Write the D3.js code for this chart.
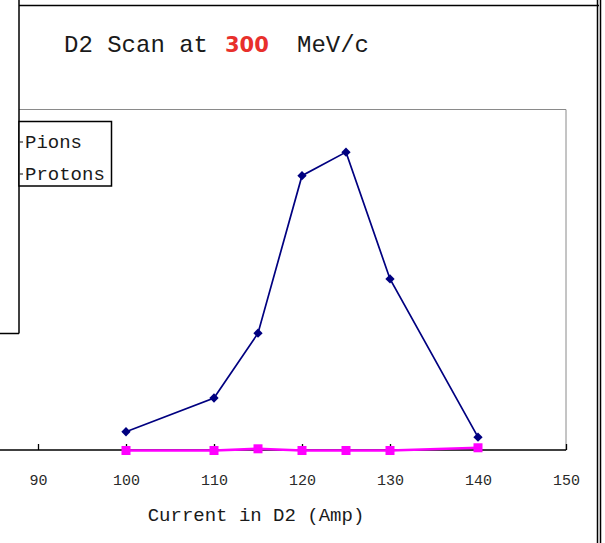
<!DOCTYPE html>
<html>
<head>
<meta charset="utf-8">
<script src="https://cdn.jsdelivr.net/npm/d3@7"></script>
<style>
  html, body { margin: 0; padding: 0; background: #fff; }
  svg { display: block; }
</style>
</head>
<body>
<svg id="chart" width="605" height="543"></svg>
<script>
// ---- data ----
const currents = [100, 110, 115, 120, 125, 130, 140];
const pions    = [55, 154, 344, 806, 875, 503, 39];
const protons  = [0, 0, 5, 0, 0, 0, 8];
const xTicks   = [90, 100, 110, 120, 130, 140, 150];
const seriesNames = ["Pions", "Protons"];
const titleParts = ["D2 Scan at", "300", "MeV/c"];
const xTitle = "Current in D2 (Amp)";

// ---- layout ----
const W = 605, H = 543;
const plot = { left: 19, top: 109.5, right: 566, bottom: 450.5 };
const mono = "'Liberation Mono', 'DejaVu Sans Mono', monospace";
const colPions = "#000080", colProtons = "#ff00ff";

const svg = d3.select("#chart");
svg.append("rect").attr("width", W).attr("height", H).attr("fill", "#fff");

const x = d3.scaleLinear().domain([90, 150]).range([38, 566]);
const y = d3.scaleLinear().domain([0, 1000]).range([plot.bottom, plot.top]);

// outer frame pieces
svg.append("line").attr("x1", 19).attr("x2", 599).attr("y1", 5.5).attr("y2", 5.5)
   .attr("stroke", "#000").attr("stroke-width", 1.5);
svg.append("line").attr("x1", 597.5).attr("x2", 597.5).attr("y1", 0).attr("y2", H)
   .attr("stroke", "#000").attr("stroke-width", 1.5);
svg.append("line").attr("x1", 600.5).attr("x2", 600.5).attr("y1", 0).attr("y2", H)
   .attr("stroke", "#000").attr("stroke-width", 1.5);

// plot area border (grey)
svg.append("path")
   .attr("d", `M${plot.left},${plot.top}H${plot.right}V${plot.bottom}`)
   .attr("fill", "none").attr("stroke", "#8a8a8a").attr("stroke-width", 1);

// left overlapping panel
svg.append("line").attr("x1", 19).attr("x2", 19).attr("y1", 0).attr("y2", 333.5)
   .attr("stroke", "#000").attr("stroke-width", 1.5);
svg.append("line").attr("x1", 0).attr("x2", 19).attr("y1", 333.5).attr("y2", 333.5)
   .attr("stroke", "#000").attr("stroke-width", 1.5);

// title
const tg = svg.append("g").attr("font-family", mono).attr("font-size", 24).attr("fill", "#1a1a1a");
tg.append("text").attr("x", 64).attr("y", 52).text(titleParts[0]);
tg.append("text").attr("x", 225).attr("y", 52)
  .attr("font-family", "'DejaVu Sans', sans-serif").attr("font-weight", "bold")
  .attr("font-size", 21).attr("fill", "#e8302c").text(titleParts[1]);
tg.append("text").attr("x", 297).attr("y", 52).text(titleParts[2]);

// x axis
const ax = svg.append("g").attr("transform", `translate(0,${plot.bottom - 0.5})`)
  .call(d3.axisBottom(x).tickValues(xTicks).tickSizeInner(-6).tickSizeOuter(0).tickPadding(24));
ax.select(".domain").remove();
ax.append("line").attr("x1", 0).attr("x2", plot.right).attr("y1", 0).attr("y2", 0)
  .attr("stroke", "#000").attr("stroke-width", 1.5);
ax.selectAll(".tick line").attr("stroke", "#000").attr("stroke-width", 1.3);
ax.selectAll(".tick text").attr("font-family", mono).attr("font-size", 15).attr("fill", "#2a2a2a");

svg.append("text").attr("x", 256).attr("y", 521).attr("text-anchor", "middle")
   .attr("font-family", mono).attr("font-size", 19).attr("fill", "#1a1a1a").text(xTitle);

// series
const line = d3.line().x(d => x(d[0])).y(d => y(d[1]));
const pData = currents.map((c, i) => [c, pions[i]]);
const rData = currents.map((c, i) => [c, protons[i]]);

svg.append("path").datum(pData).attr("d", line)
   .attr("fill", "none").attr("stroke", colPions).attr("stroke-width", 1.7);
svg.append("path").datum(rData).attr("d", line)
   .attr("fill", "none").attr("stroke", colProtons).attr("stroke-width", 2.6);

svg.selectAll(".pm").data(pData).enter().append("path").attr("class", "pm")
   .attr("transform", d => `translate(${x(d[0])},${y(d[1])})`)
   .attr("d", d3.symbol(d3.symbolDiamond2, 55)).attr("fill", colPions);
svg.selectAll(".rm").data(rData).enter().append("rect").attr("class", "rm")
   .attr("x", d => x(d[0]) - 4.5).attr("y", d => y(d[1]) - 4.5)
   .attr("width", 9).attr("height", 9).attr("fill", colProtons);

// legend
svg.append("rect").attr("x", 19).attr("y", 121.5).attr("width", 92.5).attr("height", 64.5)
   .attr("fill", "#fff").attr("stroke", "#000").attr("stroke-width", 1.5);
const lg = svg.append("g");
seriesNames.forEach((n, i) => {
  const yy = 142 + i * 32;
  lg.append("line").attr("x1", 19).attr("x2", 23).attr("y1", yy).attr("y2", yy)
    .attr("stroke", "#333").attr("stroke-width", 1.2);
  lg.append("text").attr("x", 25).attr("y", yy + 6).attr("font-family", mono)
    .attr("font-size", 19).attr("fill", "#1a1a1a").text(n);
});
</script>
</body>
</html>
